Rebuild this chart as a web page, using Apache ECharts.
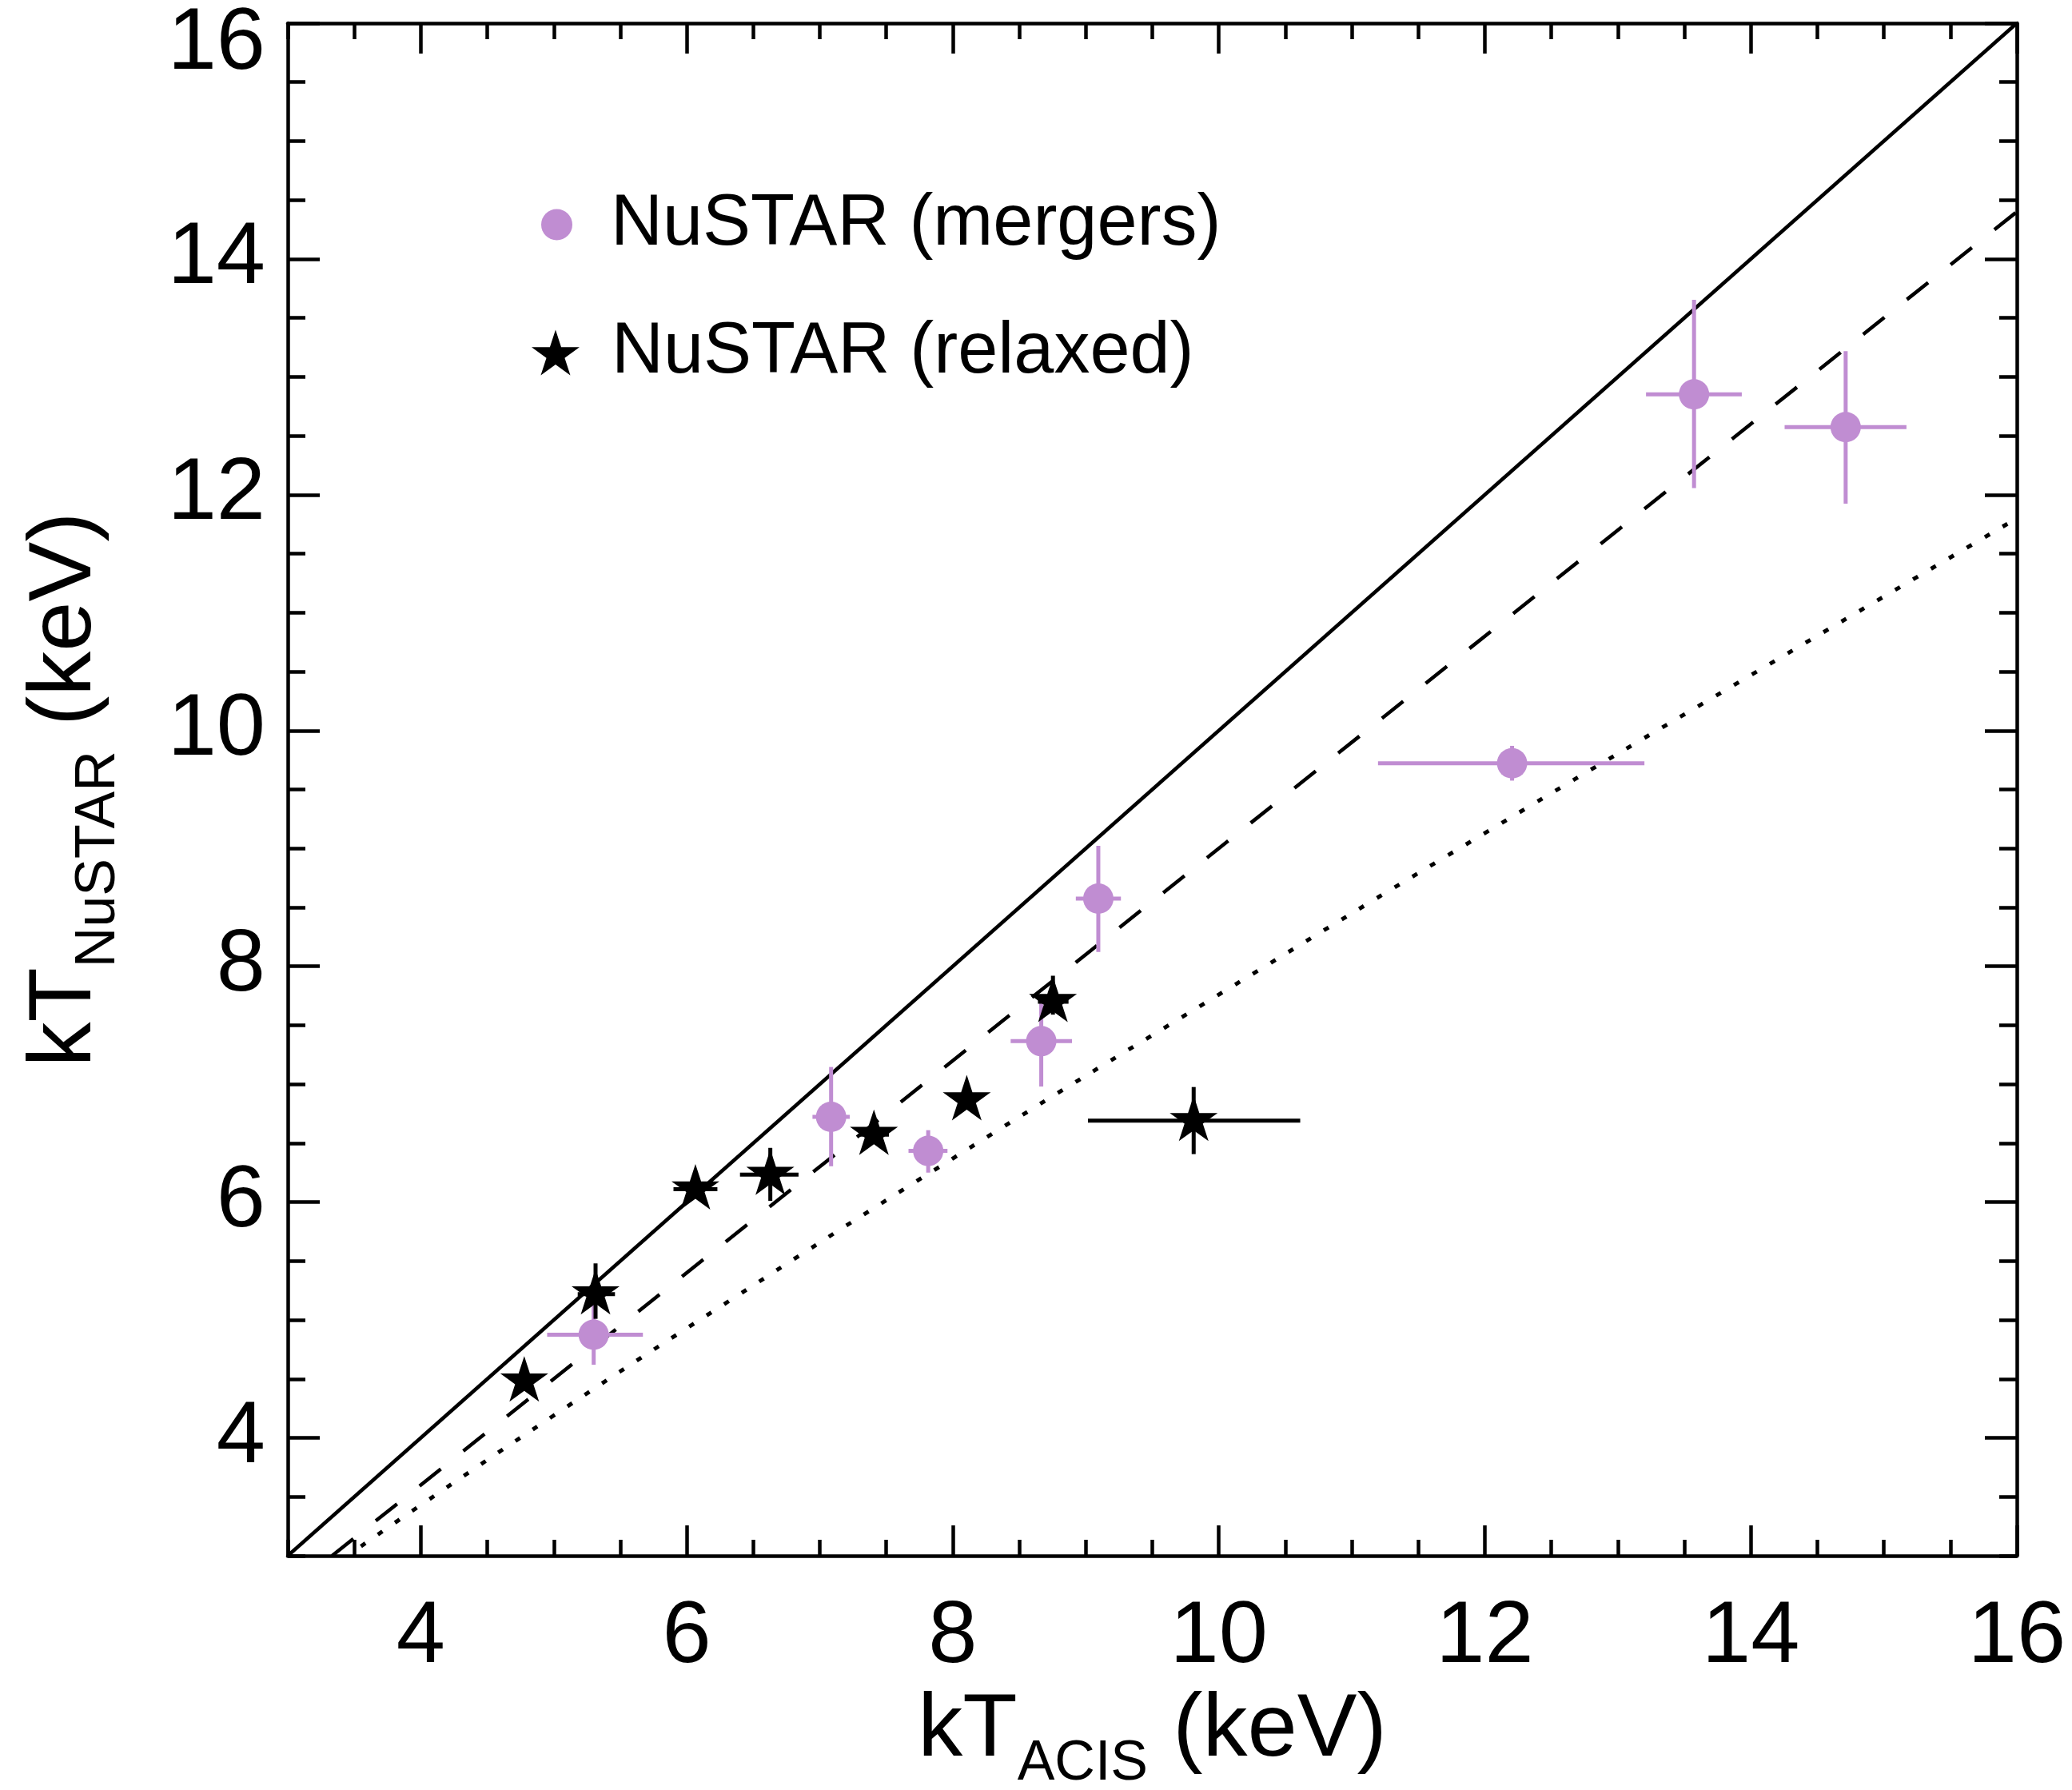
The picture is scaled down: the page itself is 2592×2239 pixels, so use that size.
<!DOCTYPE html>
<html><head><meta charset="utf-8">
<script src="https://cdn.jsdelivr.net/npm/echarts@6/dist/echarts.min.js"></script>
<style>html,body{margin:0;padding:0;background:#fff}#chart{width:2592px;height:2239px}</style>
</head><body><div id="chart"></div>
<script>
// ---------------- data ----------------
const xTickValues = [4, 6, 8, 10, 12, 14, 16];
const yTickValues = [4, 6, 8, 10, 12, 14, 16];

// NuSTAR (mergers)
const mergerX    = [5.30, 7.085, 7.815, 8.665, 9.094, 12.205, 13.573, 14.713];
const mergerY    = [4.875, 6.723, 6.434, 7.365, 8.574, 9.722, 12.852, 12.574];
const mergerXLo  = [4.95, 6.945, 7.667, 8.435, 8.925, 11.197, 13.212, 14.254];
const mergerXHi  = [5.67, 7.225, 7.96, 8.896, 9.264, 13.20, 13.932, 15.17];
const mergerYLo  = [4.62, 6.304, 6.25, 6.98, 8.122, 9.575, 12.056, 11.925];
const mergerYHi  = [5.13, 7.146, 6.61, 7.74, 9.022, 9.87, 13.654, 13.218];

// NuSTAR (relaxed)
const relaxedX   = [4.778, 5.314, 6.065, 6.628, 7.407, 8.105, 8.753, 9.811];
const relaxedY   = [4.48, 5.22, 6.11, 6.233, 6.572, 6.866, 7.70, 6.69];
const relaxedXLo = [4.778, 5.18, 5.90, 6.40, 7.30, 8.105, 8.64, 9.016];
const relaxedXHi = [4.778, 5.46, 6.23, 6.84, 7.52, 8.105, 8.87, 10.612];
const relaxedYLo = [4.48, 5.01, 6.11, 6.01, 6.572, 6.866, 7.59, 6.407];
const relaxedYHi = [4.48, 5.48, 6.11, 6.46, 6.572, 6.866, 7.92, 6.976];

// reference lines
const oneToOneX = [3, 16];
const oneToOneY = [3, 16];
const dashedX = [3.333, 16];
const dashedY = [3.0, 14.4];
const dottedX = [3.55, 4, 5, 6, 8, 10, 12, 14, 16];
const dottedY = [3.08, 3.43, 4.19, 4.93, 6.37, 7.76, 9.13, 10.47, 11.80];

// ---------------- style ----------------
const FONT = "'Liberation Sans', Arial, Helvetica, sans-serif";
const PURPLE = '#c08dd2';
const STAR = 'path://M0,-100 L22.45,-30.9 L95.11,-30.9 L36.33,11.8 L58.78,80.9 L0,38.2 L-58.78,80.9 L-36.33,11.8 L-95.11,-30.9 L-22.45,-30.9 Z';
const AX = { color: '#000', width: 4.5 };

const zip = (a, b) => a.map((v, i) => [v, b[i]]);

function errorSeries(name, xs, ys, xlo, xhi, ylo, yhi, color, z) {
  return {
    type: 'custom', name: name, z: z, clip: true,
    xAxisIndex: 0, yAxisIndex: 0,
    data: xs.map((x, i) => [x, ys[i], xlo[i], xhi[i], ylo[i], yhi[i]]),
    encode: { x: [0, 2, 3], y: [1, 4, 5] },
    renderItem: function (params, api) {
      const x = api.value(0), y = api.value(1);
      const a = api.coord([api.value(2), y]), b = api.coord([api.value(3), y]);
      const c = api.coord([x, api.value(4)]), d = api.coord([x, api.value(5)]);
      const st = { stroke: color, lineWidth: 5, fill: null };
      return { type: 'group', children: [
        { type: 'line', shape: { x1: a[0], y1: a[1], x2: b[0], y2: b[1] }, style: st },
        { type: 'line', shape: { x1: c[0], y1: c[1], x2: d[0], y2: d[1] }, style: st }
      ] };
    }
  };
}

const TITLE_RICH = {
  m: { fontSize: 112, lineHeight: 130, verticalAlign: 'bottom', padding: [0, 0, 21, 0], fontFamily: FONT, color: '#000' },
  s: { fontSize: 70, lineHeight: 21, verticalAlign: 'bottom', fontFamily: FONT, color: '#000' }
};

function xAxisDef(pos, major, withLabel) {
  const o = {
    type: 'value', position: pos, min: 3, max: 16,
    axisLine: { show: major, onZero: false, lineStyle: AX },
    splitLine: { show: false },
    axisTick: { show: true, inside: true, length: major ? 38 : 20, lineStyle: AX },
    axisLabel: { show: false }
  };
  if (major) { o.axisTick.customValues = xTickValues; }
  else { o.interval = 0.5; }
  if (withLabel) {
    o.axisLabel = { show: true, customValues: xTickValues, margin: 48, fontSize: 110, fontFamily: FONT, color: '#000' };
    o.name = '{m|kT}{s|ACIS}{m| (keV)}';
    o.nameLocation = 'middle';
    o.nameGap = 158;
    o.nameTextStyle = { fontFamily: FONT, color: '#000', rich: TITLE_RICH };
  }
  return o;
}
function yAxisDef(pos, major, withLabel) {
  const o = {
    type: 'value', position: pos, min: 3, max: 16,
    axisLine: { show: major, onZero: false, lineStyle: AX },
    splitLine: { show: false },
    axisTick: { show: true, inside: true, length: major ? 40 : 22, lineStyle: AX },
    axisLabel: { show: false }
  };
  if (major) { o.axisTick.customValues = yTickValues; }
  else { o.interval = 0.5; }
  if (withLabel) {
    o.axisLabel = { show: true, customValues: yTickValues, margin: 28, fontSize: 110, fontFamily: FONT, color: '#000',
      formatter: v => (v === 16 ? '{t|16}' : String(v)),
      rich: { t: { padding: [54, 0, 0, 0], fontSize: 110, fontFamily: FONT, color: '#000' } } };
    o.name = '{m|kT}{s|NuSTAR}{m| (keV)}';
    o.nameLocation = 'middle';
    o.nameGap = 201;
    o.nameTextStyle = { fontFamily: FONT, color: '#000', rich: TITLE_RICH };
  }
  return o;
}

const chart = echarts.init(document.getElementById('chart'), null, { renderer: 'canvas' });
chart.setOption({
  backgroundColor: '#fff',
  animation: false,
  grid: { left: 360, right: 69, top: 29, bottom: 293, containLabel: false, outerBoundsMode: 'none' },
  xAxis: [xAxisDef('bottom', true, true), xAxisDef('bottom', false, false), xAxisDef('top', true, false), xAxisDef('top', false, false)],
  yAxis: [yAxisDef('left', true, true), yAxisDef('left', false, false), yAxisDef('right', true, false), yAxisDef('right', false, false)],
  legend: [
    { data: [{ name: 'NuSTAR (mergers)', icon: 'circle' }], orient: 'vertical', left: 677, top: 231, padding: 0,
      itemWidth: 39, itemHeight: 39, selectedMode: false,
      textStyle: { fontSize: 90, fontFamily: FONT, color: '#000', lineHeight: 100, padding: [0, 0, 0, 43] } },
    { data: [{ name: 'NuSTAR (relaxed)', icon: STAR }], orient: 'vertical', left: 665, top: 391, padding: 0,
      itemWidth: 60, itemHeight: 57, selectedMode: false,
      textStyle: { fontSize: 90, fontFamily: FONT, color: '#000', lineHeight: 100, padding: [0, 0, 0, 35] } }
  ],
  series: [
    { type: 'line', name: 'one-to-one', data: zip(oneToOneX, oneToOneY), showSymbol: false, symbol: 'none', z: 1,
      lineStyle: { color: '#000', width: 4.5, type: 'solid' } },
    { type: 'line', name: 'dashed fit', data: zip(dashedX, dashedY), showSymbol: false, symbol: 'none', z: 1,
      lineStyle: { color: '#000', width: 4.5, type: [34, 36], cap: 'butt' } },
    { type: 'line', name: 'dotted fit', data: zip(dottedX, dottedY), showSymbol: false, symbol: 'none', smooth: true, z: 1,
      lineStyle: { color: '#000', width: 5, type: [7, 19], cap: 'butt' } },
    errorSeries('mergers err', mergerX, mergerY, mergerXLo, mergerXHi, mergerYLo, mergerYHi, PURPLE, 3),
    { type: 'scatter', name: 'NuSTAR (mergers)', data: zip(mergerX, mergerY), symbol: 'circle', symbolSize: 38, z: 4,
      itemStyle: { color: PURPLE, opacity: 1 } },
    errorSeries('relaxed err', relaxedX, relaxedY, relaxedXLo, relaxedXHi, relaxedYLo, relaxedYHi, '#000', 5),
    { type: 'scatter', name: 'NuSTAR (relaxed)', data: zip(relaxedX, relaxedY), symbol: STAR, symbolSize: [60, 57],
      symbolOffset: [0, -3], z: 6, itemStyle: { color: '#000', opacity: 1 } }
  ]
});
</script></body></html>
